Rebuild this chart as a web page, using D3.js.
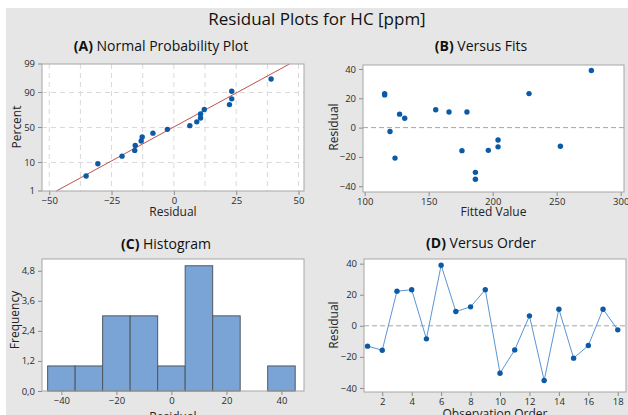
<!DOCTYPE html>
<html lang="en">
<head>
<meta charset="UTF-8">
<title>Residual Plots for HC [ppm]</title>
<script src="https://d3js.org/d3.v7.min.js"></script>
<style>
  body { margin: 0; background: #fff; }
  svg { display: block; font-family: "Open Sans", "Noto Sans", sans-serif; }
  .tick text { font-size: 9.5px; fill: #2b2b2b; font-family: "Open Sans", "Noto Sans", sans-serif; }
  .tick line { stroke: #8c8c8c; }
  .axis-title { font-size: 12px; fill: #222; }
  .panel-title { font-size: 14px; fill: #111; }
  .main-title { font-size: 17px; fill: #111; }
</style>
</head>
<body>
<div id="chart"></div>
<script>
// residuals in observation order
const observation = [1, 2, 3, 4, 5, 6, 7, 8, 9, 10, 11, 12, 13, 14, 15, 16, 17, 18];
const residuals = [-13.1, -15.7, 22.3, 23.2, -8.4, 39.0, 9.2, 12.2, 23.2, -30.5, -15.5, 6.4, -35.2, 10.7, -20.8, -12.7, 10.7, -2.6];
// fitted value of each observation
const fittedValues = [204.2, 176.0, 115.6, 115.6, 204.2, 277.1, 127.3, 155.5, 228.4, 186.5, 196.6, 131.3, 186.5, 165.9, 123.7, 252.9, 179.9, 119.8];

// normal probability plot: percent of each sorted residual
const probPercent = [3.8, 9.2, 14.7, 20.1, 25.5, 31.0, 36.4, 41.8, 47.3, 52.7, 58.2, 63.6, 69.0, 74.5, 79.9, 85.3, 90.8, 96.2];
const fitLineMean = -0.4;
const fitLineSd = 20.1;

// histogram bins
const binEdges = [-45, -35, -25, -15, -5, 5, 15, 25, 35, 45];
const binCounts = [1, 1, 3, 3, 1, 5, 3, 0, 1];

// tick labels
const percentTicks = [1, 10, 50, 90, 99];
const residTicksA = [-50, -25, 0, 25, 50];
const gridTicksA = [-50, -37.5, -25, -12.5, 0, 12.5, 25, 37.5, 50];
const fitTicks = [100, 150, 200, 250, 300];
const residTicks = [-40, -20, 0, 20, 40];
const freqTicks = [0, 1.2, 2.4, 3.6, 4.8];
const histTicks = [-40, -20, 0, 20, 40];
const orderTicks = [2, 4, 6, 8, 10, 12, 14, 16, 18];

const W = 628, H = 415;
const svg = d3.select("#chart").append("svg").attr("width", W).attr("height", H);

// grey figure background
svg.append("rect").attr("x", 6).attr("y", 8).attr("width", W - 6).attr("height", H - 8).attr("fill", "#e6e6e6");

svg.append("text").attr("class", "main-title").attr("x", 317).attr("y", 25)
  .attr("text-anchor", "middle").text("Residual Plots for HC [ppm]");

// inverse normal CDF (Acklam approximation)
function probit(p) {
  const a = [-39.6968302866538, 220.946098424521, -275.928510446969, 138.357751867269, -30.6647980661472, 2.50662827745924];
  const b = [-54.4760987982241, 161.585836858041, -155.698979859887, 66.8013118877197, -13.2806815528857];
  const c = [-0.00778489400243029, -0.322396458041136, -2.40075827716184, -2.54973253934373, 4.37466414146497, 2.93816398269878];
  const d = [0.00778469570904146, 0.32246712907004, 2.445134137143, 3.75440866190742];
  const pl = 0.02425;
  let q, r;
  if (p < pl) {
    q = Math.sqrt(-2 * Math.log(p));
    return (((((c[0] * q + c[1]) * q + c[2]) * q + c[3]) * q + c[4]) * q + c[5]) / ((((d[0] * q + d[1]) * q + d[2]) * q + d[3]) * q + 1);
  } else if (p <= 1 - pl) {
    q = p - 0.5; r = q * q;
    return (((((a[0] * r + a[1]) * r + a[2]) * r + a[3]) * r + a[4]) * r + a[5]) * q / (((((b[0] * r + b[1]) * r + b[2]) * r + b[3]) * r + b[4]) * r + 1);
  }
  q = Math.sqrt(-2 * Math.log(1 - p));
  return -(((((c[0] * q + c[1]) * q + c[2]) * q + c[3]) * q + c[4]) * q + c[5]) / ((((d[0] * q + d[1]) * q + d[2]) * q + d[3]) * q + 1);
}

// panel frame with axes, titles and labels
function drawPanel(box, x, y, opt) {
  const g = svg.append("g");
  g.append("rect").attr("x", box.x0).attr("y", box.y0)
    .attr("width", box.x1 - box.x0).attr("height", box.y1 - box.y0)
    .attr("fill", "#fff");

  const xa = g.append("g").attr("transform", `translate(0,${box.y1})`)
    .call(d3.axisBottom(x).tickValues(opt.xTicks).tickSize(4).tickSizeOuter(0).tickPadding(2).tickFormat(opt.xFmt || d3.format("")));
  const ya = g.append("g").attr("transform", `translate(${box.x0},0)`)
    .call(d3.axisLeft(y).tickValues(opt.yTicks).tickSize(4).tickSizeOuter(0).tickPadding(3).tickFormat(opt.yFmt || d3.format("")));
  xa.select(".domain").remove();
  ya.select(".domain").remove();
  if (opt.yTickPos) ya.selectAll(".tick").attr("transform", d => `translate(0,${opt.yTickPos(d)})`);

  const t = svg.append("text").attr("class", "panel-title").attr("x", opt.titleX).attr("y", opt.titleY).attr("text-anchor", "middle");
  t.append("tspan").attr("font-weight", "bold").text(opt.letter + " ");
  t.append("tspan").text(opt.title);

  svg.append("text").attr("class", "axis-title").attr("x", (box.x0 + box.x1) / 2).attr("y", opt.xLabelY)
    .attr("text-anchor", "middle").text(opt.xLabel);
  svg.append("text").attr("class", "axis-title")
    .attr("transform", `translate(${opt.yLabelX},${opt.yLabelCy}) rotate(-90)`)
    .attr("text-anchor", "middle").text(opt.yLabel);
  return g;
}

function drawBorder(box) {
  svg.append("rect").attr("x", box.x0).attr("y", box.y0)
    .attr("width", box.x1 - box.x0).attr("height", box.y1 - box.y0)
    .attr("fill", "none").attr("stroke", "#a6a6a6");
}

const pointColor = "#0c5aa6";

// (A) Normal probability plot
const boxA = {x0: 42, x1: 304, y0: 64, y1: 191};
const xA = d3.scaleLinear().domain([-52.9, 52.2]).range([boxA.x0, boxA.x1]);
const yA = d3.scaleLinear().domain([probit(0.01), probit(0.99)]).range([boxA.y1, boxA.y0]);
const yPct = p => yA(probit(p / 100));
const gA = drawPanel(boxA, xA, yA, {
  xTicks: residTicksA, yTicks: percentTicks, yTickPos: yPct,
  letter: "(A)", title: "Normal Probability Plot", titleX: 161, titleY: 51,
  xLabel: "Residual", xLabelY: 216, yLabel: "Percent", yLabelX: 21, yLabelCy: 127
});
gA.selectAll(".vgrid").data(gridTicksA).join("line")
  .attr("x1", d => xA(d)).attr("x2", d => xA(d)).attr("y1", boxA.y0).attr("y2", boxA.y1)
  .attr("stroke", "#d9d9d9").attr("stroke-dasharray", "5,4");
gA.selectAll(".hgrid").data(percentTicks.slice(1, 4)).join("line")
  .attr("x1", boxA.x0).attr("x2", boxA.x1).attr("y1", d => yPct(d)).attr("y2", d => yPct(d))
  .attr("stroke", "#d9d9d9").attr("stroke-dasharray", "5,4");
const zEnds = [probit(0.01), probit(0.99)];
gA.append("line")
  .attr("x1", xA(fitLineMean + fitLineSd * zEnds[0])).attr("y1", yA(zEnds[0]))
  .attr("x2", xA(fitLineMean + fitLineSd * zEnds[1])).attr("y2", yA(zEnds[1]))
  .attr("stroke", "#c0504d").attr("stroke-width", 1);
const sortedRes = residuals.slice().sort(d3.ascending);
gA.selectAll(".pt").data(sortedRes).join("circle")
  .attr("cx", d => xA(d)).attr("cy", (d, i) => yPct(probPercent[i])).attr("r", 2.7).attr("fill", pointColor);
drawBorder(boxA);

// (B) Versus fits
const boxB = {x0: 363, x1: 624, y0: 65, y1: 192};
const xB = d3.scaleLinear().domain([98.7, 302.6]).range([boxB.x0, boxB.x1]);
const yB = d3.scaleLinear().domain([-43.9, 42.7]).range([boxB.y1, boxB.y0]);
const gB = drawPanel(boxB, xB, yB, {
  xTicks: fitTicks, yTicks: residTicks,
  letter: "(B)", title: "Versus Fits", titleX: 481, titleY: 51,
  xLabel: "Fitted Value", xLabelY: 216, yLabel: "Residual", yLabelX: 338, yLabelCy: 127
});
gB.append("line").attr("x1", boxB.x0).attr("x2", boxB.x1).attr("y1", yB(0)).attr("y2", yB(0))
  .attr("stroke", "#a6a6a6").attr("stroke-dasharray", "5,3");
gB.selectAll(".pt").data(residuals).join("circle")
  .attr("cx", (d, i) => xB(fittedValues[i])).attr("cy", d => yB(d)).attr("r", 2.7).attr("fill", pointColor);
drawBorder(boxB);

// (C) Histogram
const boxC = {x0: 42, x1: 304, y0: 259, y1: 391};
const xC = d3.scaleLinear().domain([-47.05, 48.2]).range([boxC.x0, boxC.x1]);
const yC = d3.scaleLinear().domain([0, 5.27]).range([boxC.y1, boxC.y0]);
const gC = drawPanel(boxC, xC, yC, {
  xTicks: histTicks, yTicks: freqTicks, yFmt: d => d3.format(".1f")(d).replace(".", ","),
  letter: "(C)", title: "Histogram", titleX: 166, titleY: 249,
  xLabel: "Residual", xLabelY: 421, yLabel: "Frequency", yLabelX: 19, yLabelCy: 320
});
gC.selectAll(".bar").data(binCounts).join("rect")
  .attr("x", (d, i) => xC(binEdges[i])).attr("width", (d, i) => xC(binEdges[i + 1]) - xC(binEdges[i]))
  .attr("y", d => yC(d)).attr("height", d => yC(0) - yC(d))
  .attr("fill", "#7ba4d6").attr("stroke", "#4f5761").attr("stroke-width", 1)
  .attr("display", d => d > 0 ? null : "none");
drawBorder(boxC);

// (D) Versus order
const boxD = {x0: 364, x1: 626, y0: 259, y1: 392};
const xD = d3.scaleLinear().domain([0.76, 18.56]).range([boxD.x0, boxD.x1]);
const yD = d3.scaleLinear().domain([-42.6, 43]).range([boxD.y1, boxD.y0]);
const gD = drawPanel(boxD, xD, yD, {
  xTicks: orderTicks, yTicks: residTicks,
  letter: "(D)", title: "Versus Order", titleX: 481, titleY: 248,
  xLabel: "Observation Order", xLabelY: 418, yLabel: "Residual", yLabelX: 338, yLabelCy: 325
});
gD.append("line").attr("x1", boxD.x0).attr("x2", boxD.x1).attr("y1", yD(0)).attr("y2", yD(0))
  .attr("stroke", "#a6a6a6").attr("stroke-dasharray", "5,3");
gD.append("path").datum(residuals)
  .attr("d", d3.line().x((d, i) => xD(observation[i])).y(d => yD(d)))
  .attr("fill", "none").attr("stroke", "#5b95d3").attr("stroke-width", 1);
gD.selectAll(".pt").data(residuals).join("circle")
  .attr("cx", (d, i) => xD(observation[i])).attr("cy", d => yD(d)).attr("r", 2.7).attr("fill", pointColor);
drawBorder(boxD);
</script>
</body>
</html>
